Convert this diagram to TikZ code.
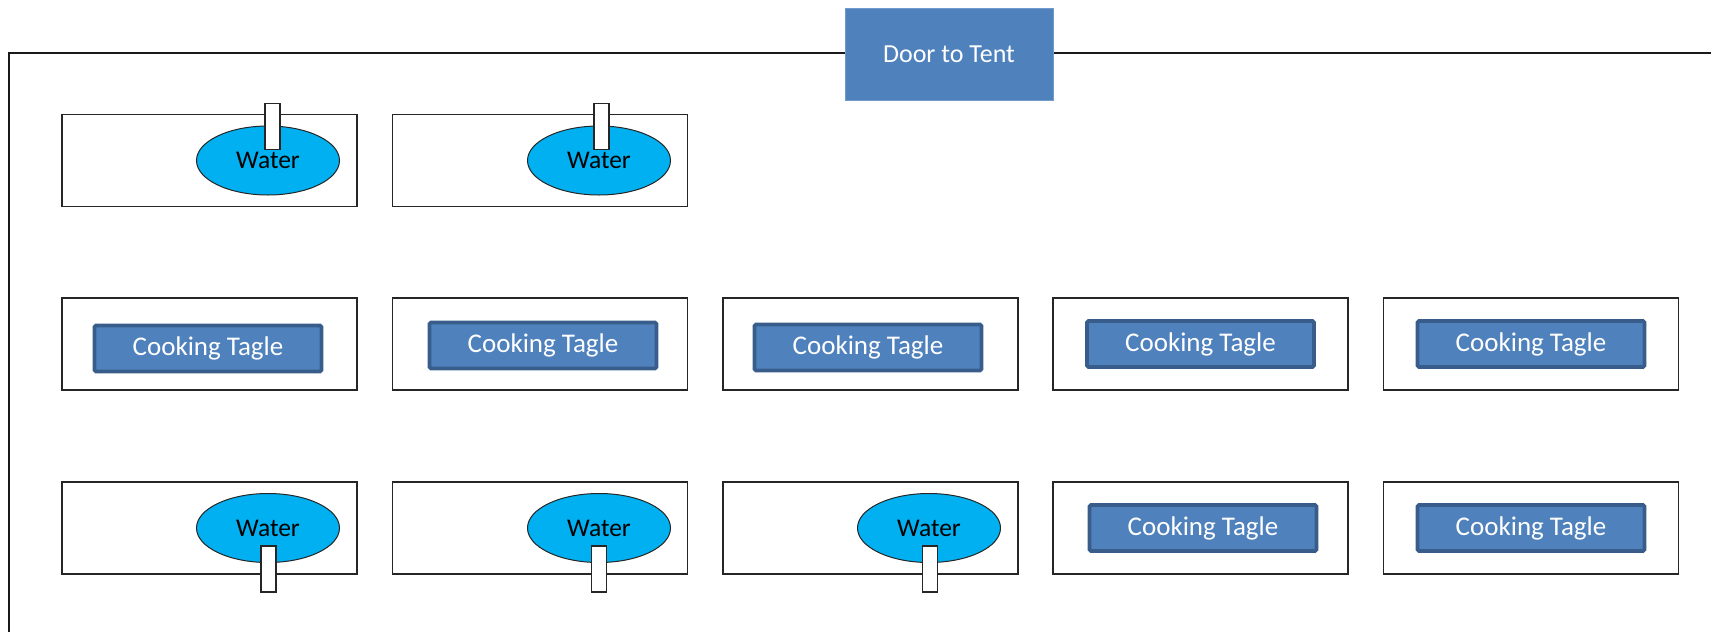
\documentclass[tikz,border=0pt]{standalone}
\usepackage{fontspec}
\setmainfont{Carlito}
\usetikzlibrary{shapes.geometric}
\definecolor{officeblue}{HTML}{4F81BD}
\definecolor{officeedge}{HTML}{385D8A}
\definecolor{waterblue}{HTML}{00B0F0}
\begin{document}
\begin{tikzpicture}[x=1pt,y=-1pt]
        \tikzstyle{tablebox} = [rectangle, draw=black!85, line width=1.4pt, minimum width=295pt, minimum height=92pt, inner sep=0pt]
        \tikzstyle{water} = [ellipse, draw=black!85, line width=1pt, fill=waterblue, minimum width=143pt, minimum height=69pt, inner sep=0pt, font=\fontsize{25.5}{28}\selectfont]
        \tikzstyle{tap} = [rectangle, draw=black!85, line width=1.2pt, fill=white, minimum width=15pt, minimum height=46pt, inner sep=0pt]
        \tikzstyle{cook} = [rectangle, draw=officeedge, line width=3.6pt, fill=officeblue, rounded corners=1.5pt, minimum width=227pt, minimum height=46pt, inner sep=0pt, text=white, font=\fontsize{27}{30}\selectfont]
        \tikzstyle{door} = [rectangle, draw=officeblue!80, fill=officeblue, minimum width=208pt, minimum height=92pt, inner sep=0pt, text=white, font=\fontsize{26}{30}\selectfont]

        \useasboundingbox (0,0) rectangle (1711,632);
        % tent wall
        \draw [line width=1.6pt, black!90] (1711,53) -- (9,53) -- (9,632);
        \node (door) [door] at (949,54) {Door to Tent};

        % tables
        \node (t11) [tablebox] at (209.5,160.5) {};
        \node (t12) [tablebox] at (540,160.5) {};
        \node (t21) [tablebox] at (209.5,344) {};
        \node (t22) [tablebox] at (540,344) {};
        \node (t23) [tablebox] at (870.5,344) {};
        \node (t24) [tablebox] at (1200.5,344) {};
        \node (t25) [tablebox] at (1531,344) {};
        \node (t31) [tablebox] at (209.5,528) {};
        \node (t32) [tablebox] at (540,528) {};
        \node (t33) [tablebox] at (870.5,528) {};
        \node (t34) [tablebox] at (1200.5,528) {};
        \node (t35) [tablebox] at (1531,528) {};

        % water stations
        \node (w11) [water] at ([xshift=58.5pt]t11.center) {Water};
        \node (w12) [water] at ([xshift=59pt]t12.center) {Water};
        \node (w31) [water] at ([xshift=58.5pt]t31.center) {Water};
        \node (w32) [water] at ([xshift=59pt]t32.center) {Water};
        \node (w33) [water] at ([xshift=58.5pt]t33.center) {Water};
        \node (tap11) [tap] at ([xshift=4.5pt,yshift=34pt]w11.center) {};
        \node (tap12) [tap] at ([xshift=2.5pt,yshift=34pt]w12.center) {};
        \node (tap31) [tap] at ([xshift=0.5pt,yshift=-41pt]w31.center) {};
        \node (tap32) [tap] at ([yshift=-41pt]w32.center) {};
        \node (tap33) [tap] at ([xshift=1pt,yshift=-41pt]w33.center) {};

        % cooking
        \node (c21) [cook] at ([xshift=-1.5pt,yshift=-4.5pt]t21.center) {Cooking Tagle};
        \node (c22) [cook] at ([xshift=3pt,yshift=-1.5pt]t22.center) {Cooking Tagle};
        \node (c23) [cook] at ([xshift=-2.5pt,yshift=-3.5pt]t23.center) {Cooking Tagle};
        \node (c24) [cook] at (t24.center) {Cooking Tagle};
        \node (c25) [cook] at (t25.center) {Cooking Tagle};
        \node (c34) [cook] at ([xshift=2.5pt]t34.center) {Cooking Tagle};
        \node (c35) [cook] at (t35.center) {Cooking Tagle};
\end{tikzpicture}
\end{document}
